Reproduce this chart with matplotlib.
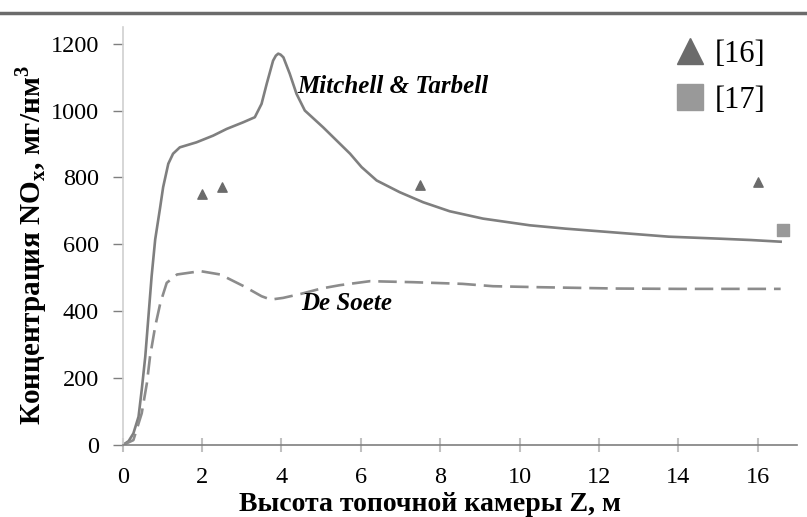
import matplotlib.pyplot as plt
from matplotlib.lines import Line2D

# Mitchell & Tarbell model (solid)
z_mt = [0, 0.15, 0.27, 0.40, 0.48, 0.57, 0.65, 0.73, 0.82, 0.94, 1.02, 1.15, 1.27, 1.44,
        1.86, 2.28, 2.62, 3.04, 3.33, 3.50, 3.63, 3.79, 3.86, 3.92, 3.98, 4.05, 4.21,
        4.38, 4.59, 5.05, 5.73, 6.02, 6.40, 6.98, 7.57, 8.24, 9.08, 10.26, 11.16,
        12.46, 13.76, 15.05, 15.83, 16.58]
nox_mt = [0, 12, 35, 85, 165, 265, 385, 505, 615, 707, 771, 841, 871, 890,
          905, 925, 945, 965, 980, 1020, 1080, 1149, 1164, 1170, 1167, 1159, 1110,
          1050, 1000, 950, 871, 831, 791, 756, 726, 699, 677, 657, 647,
          635, 623, 617, 613, 608]

# De Soete model (dashed)
z_ds = [0, 0.27, 0.48, 0.61, 0.69, 0.82, 0.95, 1.11, 1.37, 1.96, 2.46, 3.05, 3.50, 3.73,
        4.04, 4.49, 5.00, 5.47, 6.23, 7.32, 8.56, 9.33, 10.5, 12.46, 14.0, 15.05, 16.58]
nox_ds = [0, 15, 95, 185, 265, 355, 425, 485, 510, 520, 510, 475, 445, 435,
          440, 452, 468, 478, 490, 487, 482, 475, 472, 468, 467, 467, 467]

# experimental points
z_16 = [2.0, 2.5, 7.5, 16.0]
nox_16 = [750, 772, 778, 787]
z_17 = [16.65]
nox_17 = [643]

xticks = [0, 2, 4, 6, 8, 10, 12, 14, 16]
yticks = [0, 200, 400, 600, 800, 1000, 1200]

serif = "Liberation Serif"

fig = plt.figure(figsize=(8.07, 5.17), dpi=100)
ax = fig.add_axes([0.152, 0.139, 0.836, 0.809])

ax.plot(z_mt, nox_mt, color="#7f7f7f", lw=1.9, solid_joinstyle="round")
ax.plot(z_ds, nox_ds, color="#8c8c8c", lw=1.9, linestyle=(0, (7, 3)))
ax.scatter(z_16, nox_16, marker="^", s=45, color="#6b6b6b", zorder=3)
ax.scatter(z_17, nox_17, marker="s", s=70, color="#999999", zorder=3)

ax.set_xlim(0, 17)
ax.set_ylim(0, 1250)
ax.set_xticks(xticks)
ax.set_yticks(yticks)
for s in ["top", "right"]:
    ax.spines[s].set_visible(False)
ax.spines["bottom"].set_color("#7f7f7f")
ax.spines["bottom"].set_linewidth(1.2)
ax.spines["left"].set_color("#d0d0d0")
ax.spines["left"].set_linewidth(1.2)
ax.tick_params(axis="x", direction="inout", length=10, width=1.5, color="#c0c0c0", pad=11)
ax.tick_params(axis="y", direction="out", length=7, width=1, color="#7f7f7f", pad=10)
for lab in ax.get_xticklabels() + ax.get_yticklabels():
    lab.set_fontfamily(serif)
    lab.set_fontsize(17.5)

ax.set_xlabel("Высота топочной камеры Z, м", fontfamily=serif, fontweight="bold",
              fontsize=20)
ax.xaxis.set_label_coords(0.456, -0.112)
ax.set_ylabel("Концентрация NO$_\\mathregular{x}$, мг/нм$^\\mathregular{3}$", fontfamily=serif,
              fontweight="bold", fontsize=21)
ax.yaxis.set_label_coords(-0.109, 0.478)

ax.text(4.4, 1052, "Mitchell & Tarbell", fontfamily=serif, fontweight="bold",
        fontstyle="italic", fontsize=18, va="baseline")
ax.text(4.5, 405, "De Soete", fontfamily=serif, fontweight="bold",
        fontstyle="italic", fontsize=18, va="baseline")

handles = [Line2D([], [], marker="^", ls="", color="#6b6b6b", markersize=19),
           Line2D([], [], marker="s", ls="", color="#999999", markersize=19)]
ax.legend(handles, ["[16]", "[17]"], loc="upper right", bbox_to_anchor=(0.993, 1.035),
          frameon=False, prop={"family": serif, "size": 22}, handletextpad=0.2,
          labelspacing=0.55, handlelength=1.2)

fig.add_artist(Line2D([0, 1], [0.975, 0.975], color="#6b6b6b", lw=2.5))

fig.savefig("out.png", dpi=100)
